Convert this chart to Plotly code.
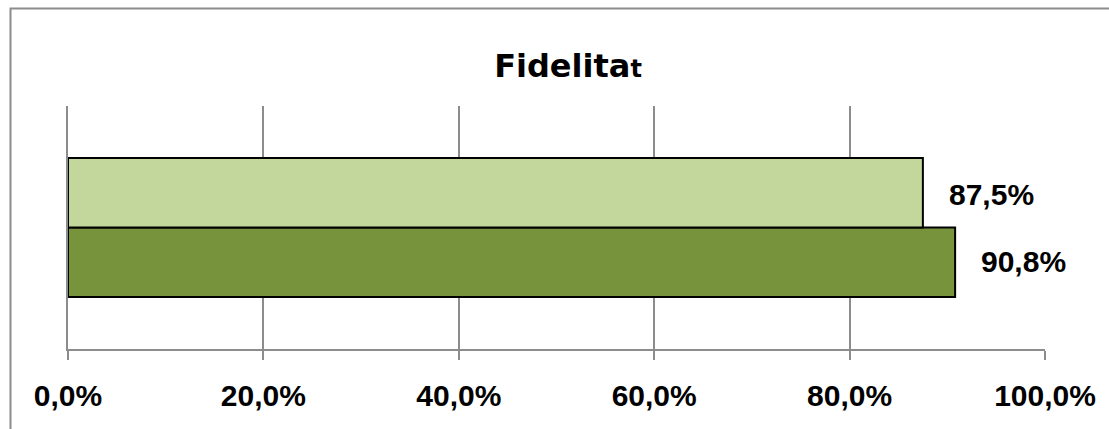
import plotly.graph_objects as go

# Chart data
category = ["Fidelitat"]
series_names = ["Sèrie 2", "Sèrie 1"]
series_values = [90.8, 87.5]          # percentages (bottom bar first)
series_colors = ["#77933C", "#C3D69B"]
tick_values = [0, 20, 40, 60, 80, 100]
tick_labels = ["0,0%", "20,0%", "40,0%", "60,0%", "80,0%", "100,0%"]
title_text = "Fidelita<span style='font-size:24px'>t</span>"

W, H = 1109, 429
ML, MR, MT, MB = 68, 64, 106, 80
plot_w = W - ML - MR
plot_h = H - MT - MB

fig = go.Figure()
for name, val, col in zip(series_names, series_values, series_colors):
    fig.add_trace(go.Bar(
        x=[val], y=category, name=name, orientation="h",
        marker=dict(color=col, line=dict(color="#000000", width=2)),
        showlegend=False,
    ))
    fig.add_annotation(
        x=val, y=0, xref="x", yref="y",
        yshift=(-34 if val == max(series_values) else 33),
        text=f"{val:.1f}%".replace(".", ","),
        showarrow=False, xanchor="left", xshift=24,
        font=dict(family="Liberation Sans", size=30, color="#000000", weight="bold"),
    )

def px_to_paper_x(p):
    return (p - ML) / plot_w

def px_to_paper_y(p):
    return (H - MB - p) / plot_h

# outer chart frame
fig.add_shape(
    type="rect", xref="paper", yref="paper",
    x0=px_to_paper_x(10.5), x1=px_to_paper_x(1130),
    y0=px_to_paper_y(450), y1=px_to_paper_y(8.5),
    line=dict(color="#8C8C8C", width=2), fillcolor="rgba(0,0,0,0)",
    layer="below",
)

fig.update_layout(
    width=W, height=H,
    margin=dict(l=ML, r=MR, t=MT, b=MB),
    paper_bgcolor="white", plot_bgcolor="white",
    barmode="group", bargap=0.428, bargroupgap=0,
    title=dict(
        text=title_text, x=568 / W, xanchor="center",
        y=1 - 66 / H, yanchor="middle",
        font=dict(family="DejaVu Sans", size=32, color="#000000", weight="bold"),
    ),
    font=dict(family="Liberation Sans", color="#000000"),
    xaxis=dict(
        range=[0, 100], tickvals=tick_values, ticktext=tick_labels,
        showgrid=True, gridcolor="#8C8C8C", gridwidth=2,
        showline=True, linecolor="#8C8C8C", linewidth=2,
        ticks="outside", ticklen=9, tickwidth=2, tickcolor="#8C8C8C",
        tickfont=dict(family="Liberation Sans", size=30, color="#000000", weight="bold"),
        ticklabelstandoff=10,
        zeroline=False, fixedrange=True,
    ),
    yaxis=dict(
        showticklabels=False, showgrid=False, zeroline=False,
        showline=True, linecolor="#8C8C8C", linewidth=2,
        ticks="", fixedrange=True,
    ),
)

fig.write_html("out.html")
